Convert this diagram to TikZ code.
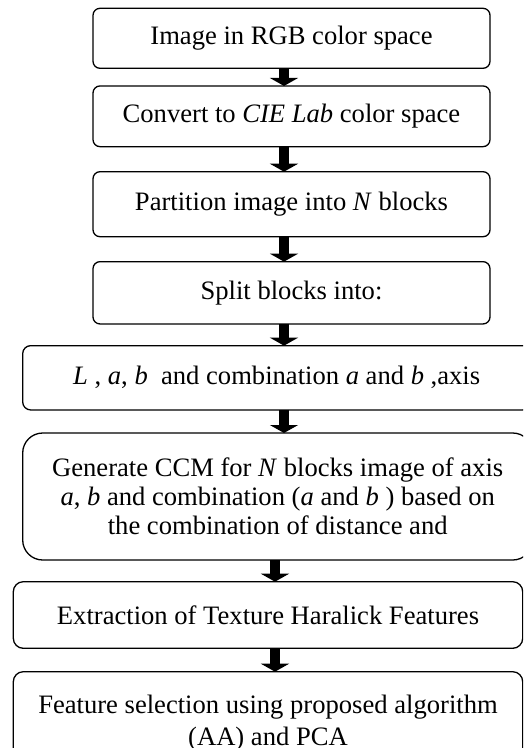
\documentclass[tikz,border=0pt]{standalone}
\usepackage{fontspec}
\setmainfont{Liberation Serif}
\usetikzlibrary{arrows.meta}
\tikzset{
  box/.style={draw=black, line width=1.3pt, fill=white, inner sep=0pt, outer sep=0pt,
    align=center, font=\fontsize{26.6}{29}\selectfont},
  blk/.style={line width=10.5pt, -{Triangle[width=28pt,length=8pt]}}
}
\begin{document}
\begin{tikzpicture}[x=1pt,y=-1pt]
\useasboundingbox (0,0) rectangle (523,748);
\clip (0,0) rectangle (523,748);
\node[box, rounded corners=7pt, minimum width=397pt, minimum height=60pt] (b1) at (291.5,38.3) {Image in RGB color space};
\node[box, rounded corners=7pt, minimum width=397pt, minimum height=60.7pt] (b2) at (291.5,116.3) {Convert to \textit{CIE Lab} color space};
\node[box, rounded corners=7pt, minimum width=397pt, minimum height=65pt] (b3) at (291.5,204.2) {Partition image into \textit{N} blocks};
\node[box, rounded corners=7pt, minimum width=397pt, minimum height=62.3pt] (b4) at (291.5,292.8) {Split blocks into:};
\node[box, rounded corners=8pt, minimum width=508pt, minimum height=64.3pt] (b5) at (276.7,377.8) {\textit{L} , \textit{a}, \textit{b}\ \ and combination \textit{a} and \textit{b} ,axis};
\node[box, rounded corners=20pt, minimum width=510pt, minimum height=127pt] (b6) at (277.7,496.5) {Generate CCM for \textit{N} blocks image of axis\\ \textit{a}, \textit{b} and combination (\textit{a} and \textit{b} ) based on\\ the combination of distance and};
\node[box, rounded corners=10pt, minimum width=509.4pt, minimum height=66.6pt] (b7) at (268,615) {Extraction of Texture Haralick Features};
\node[box, rounded corners=10pt, minimum width=509.4pt, minimum height=102pt, font=\fontsize{26.6}{32}\selectfont] (b8) at (268,722.7) {Feature selection using proposed algorithm\\ (AA) and PCA};
\coordinate (axa) at (284,0);
\coordinate (axb) at (275,0);
\draw[blk] (b1.south -| axa) -- (b2.north -| axa);
\draw[blk] (b2.south -| axa) -- (b3.north -| axa);
\draw[blk] (b3.south -| axa) -- (b4.north -| axa);
\draw[blk] (b4.south -| axa) -- (b5.north -| axa);
\draw[blk] (b5.south -| axa) -- (b6.north -| axa);
\draw[blk] (b6.south -| axb) -- (b7.north -| axb);
\draw[blk] (b7.south -| axb) -- (b8.north -| axb);
\end{tikzpicture}
\end{document}
